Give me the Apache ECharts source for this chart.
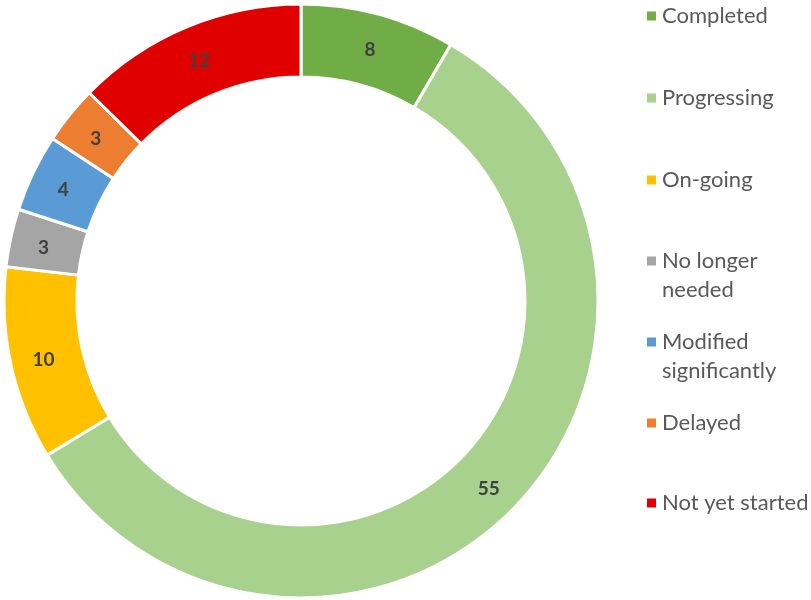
<!DOCTYPE html>
<html>
<head>
<meta charset="utf-8">
<script src="https://cdn.jsdelivr.net/npm/echarts@6/dist/echarts.min.js"></script>
<style>
html,body{margin:0;padding:0;background:#fff;}
#chart{width:811px;height:600px;}
</style>
</head>
<body>
<div id="chart"></div>
<script>
const categories = ['Completed','Progressing','On-going','No longer needed','Modified significantly','Delayed','Not yet started'];
const values = [8, 55, 10, 3, 4, 3, 12];
const legendLabels = ['Completed','Progressing','On-going','No longer\nneeded','Modified\nsignificantly','Delayed','Not yet started'];
const colors = ['#70AD47','#A9D18E','#FFC000','#A5A5A5','#5B9BD5','#ED7D31','#E00000'];

const font = 'Lato, "Open Sans", sans-serif';
const legendTops = [15, 97, 179, 260, 341, 422, 502];

const legends = categories.map((name, i) => {
  const multi = legendLabels[i].indexOf('\n') >= 0;
  return {
    data: [name],
    left: 640,
    top: multi ? legendTops[i] - 47.5 : legendTops[i] - 18.5,
    orient: 'vertical',
    icon: 'rect',
    itemWidth: 11,
    itemHeight: 11,
    itemGap: 9,
    formatter: () => multi ? '\n' + legendLabels[i] : legendLabels[i],
    textStyle: {
      fontFamily: font,
      fontSize: 22,
      color: '#595959',
      lineHeight: 29
    }
  };
});

const chart = echarts.init(document.getElementById('chart'));
chart.setOption({
  animation: false,
  color: colors,
  legend: legends,
  series: [{
    type: 'pie',
    center: [301, 301],
    radius: [224, 297],
    startAngle: 90,
    clockwise: true,
    avoidLabelOverlap: false,
    itemStyle: { borderColor: '#fff', borderWidth: 3 },
    label: {
      show: true,
      position: 'inside',
      formatter: '{c}',
      fontFamily: font,
      fontSize: 19,
      fontWeight: 'bold',
      color: '#404040',
      offset: [0, 3]
    },
    labelLine: { show: false },
    emphasis: { disabled: true },
    data: categories.map((n, i) => ({ name: n, value: values[i] }))
  }]
});
</script>
</body>
</html>
